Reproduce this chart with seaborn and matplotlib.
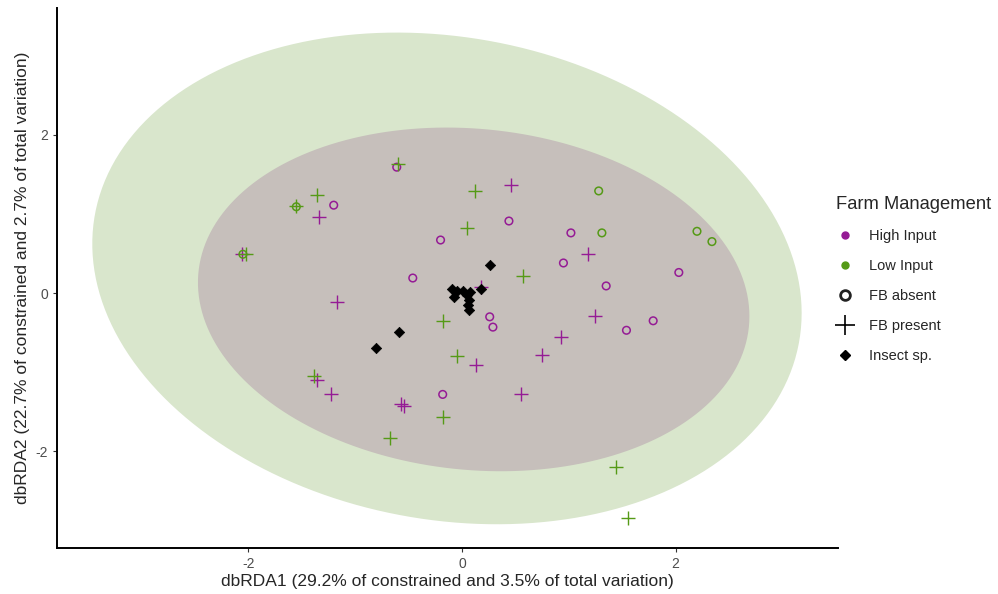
import numpy as np
import pandas as pd
import seaborn as sns
import matplotlib.pyplot as plt
from matplotlib.lines import Line2D

# site scores (dbRDA1, dbRDA2)
high_absent_x = [-0.61, -1.20, -0.20, -0.46, 0.44, 1.02, 0.95, 1.35, 2.03, 1.79, 1.54, 0.26, 0.29, -0.18]
high_absent_y = [1.59, 1.11, 0.67, 0.19, 0.91, 0.76, 0.38, 0.09, 0.26, -0.35, -0.47, -0.30, -0.43, -1.28]
high_present_x = [-1.34, -1.17, 0.46, 0.18, 1.18, 1.25, 0.93, 0.75, 0.13, 0.55, -1.36, -1.23, -0.57, -0.54, -2.06]
high_present_y = [0.96, -0.11, 1.36, 0.08, 0.49, -0.29, -0.55, -0.78, -0.91, -1.27, -1.10, -1.27, -1.40, -1.43, 0.49]
low_absent_x = [1.28, 1.31, 2.20, 2.34, -1.55, -2.05]
low_absent_y = [1.29, 0.76, 0.78, 0.65, 1.09, 0.49]
low_present_x = [-0.60, -1.36, -1.55, -2.02, 0.12, 0.05, 0.57, -0.18, -0.05, -1.38, -0.18, -0.67, 1.44, 1.55]
low_present_y = [1.63, 1.24, 1.10, 0.49, 1.29, 0.82, 0.22, -0.35, -0.79, -1.05, -1.57, -1.83, -2.20, -2.84]

# species scores
insect_x = [0.26, 0.18, -0.09, -0.05, 0.01, -0.07, 0.05, 0.08, 0.07, 0.07, 0.06, -0.59, -0.80]
insect_y = [0.35, 0.05, 0.05, 0.02, 0.03, -0.05, -0.03, 0.01, -0.09, -0.21, -0.15, -0.49, -0.69]

# ellipse parameters (centre, covariance-like matrix) per group
ell_low = {"cx": -0.14, "cy": 0.185, "a": 11.02, "b": 9.64, "c": -1.45}
ell_high = {"cx": 0.11, "cy": -0.08, "a": 6.66, "b": 4.71, "c": -0.55}

purple = "#951b95"
green = "#559a16"

sites = pd.concat([
    pd.DataFrame({"x": high_absent_x, "y": high_absent_y, "mgmt": "High Input", "fb": "FB absent"}),
    pd.DataFrame({"x": high_present_x, "y": high_present_y, "mgmt": "High Input", "fb": "FB present"}),
    pd.DataFrame({"x": low_absent_x, "y": low_absent_y, "mgmt": "Low Input", "fb": "FB absent"}),
    pd.DataFrame({"x": low_present_x, "y": low_present_y, "mgmt": "Low Input", "fb": "FB present"}),
])
species = pd.DataFrame({"x": insect_x, "y": insect_y})

sns.set_theme(style="white")
plt.rcParams["font.family"] = ["Liberation Sans", "DejaVu Sans"]
plt.rcParams["axes.unicode_minus"] = False

fig = plt.figure(figsize=(9.98, 5.94), dpi=100)
ax = fig.add_axes([0.0571, 0.0774, 0.7826, 0.9091])


def draw_ellipse(p, color):
    cov = np.array([[p["a"], p["c"]], [p["c"], p["b"]]])
    L = np.linalg.cholesky(cov)
    t = np.linspace(0, 2 * np.pi, 200)
    pts = L @ np.vstack([np.cos(t), np.sin(t)])
    ax.fill(pts[0] + p["cx"], pts[1] + p["cy"], color=color, lw=0, zorder=1)


draw_ellipse(ell_low, "#d9e6cc")
draw_ellipse(ell_high, "#c6bfbb")

colors = {"High Input": purple, "Low Input": green}
for (mgmt, fb), sub in sites.groupby(["mgmt", "fb"]):
    col = colors[mgmt]
    if fb == "FB absent":
        sns.scatterplot(data=sub, x="x", y="y", ax=ax, marker="o", s=30,
                        facecolors="none", edgecolor=col, linewidth=1.1, zorder=3)
    else:
        sns.scatterplot(data=sub, x="x", y="y", ax=ax, marker="+", s=90,
                        color=col, linewidth=1.0, zorder=3)

sns.scatterplot(data=species, x="x", y="y", ax=ax, marker="D", s=28,
                color="black", edgecolor="black", linewidth=0.5, zorder=4)

ax.set_xlim(-3.79, 3.52)
ax.set_ylim(-3.22, 3.60)
ax.set_xticks([-2, 0, 2])
ax.set_yticks([-2, 0, 2])
ax.tick_params(axis="both", length=3, width=0.8, color="#333333",
               labelsize=10, labelcolor="#4d4d4d", bottom=True, left=True)
for side in ["top", "right"]:
    ax.spines[side].set_visible(False)
for side in ["left", "bottom"]:
    ax.spines[side].set_color("black")
    ax.spines[side].set_linewidth(1.4)

ax.set_xlabel("dbRDA1 (29.2% of constrained and 3.5% of total variation)", fontsize=12.5, labelpad=2)
ax.set_ylabel("dbRDA2 (22.7% of constrained and 2.7% of total variation)", fontsize=12.5, labelpad=4)

handles = [
    Line2D([], [], ls="", marker="o", ms=5, color=purple),
    Line2D([], [], ls="", marker="o", ms=5, color=green),
    Line2D([], [], ls="", marker="o", ms=7, mfc="none", mec="#222222", mew=2),
    Line2D([], [], ls="", marker="+", ms=14, color="black", mew=1.2),
    Line2D([], [], ls="", marker="D", ms=5, color="black"),
]
labels = ["High Input", "Low Input", "FB absent", "FB present", "Insect sp."]
leg = ax.legend(handles, labels, title="Farm Management", loc="upper left",
                bbox_to_anchor=(0.825, 0.692), bbox_transform=fig.transFigure,
                frameon=False, fontsize=10.5, title_fontsize=13.2,
                handlelength=1.2, handletextpad=1.0, labelspacing=1.1)
leg._legend_box.align = "left"

fig.savefig("out.png", dpi=100)
